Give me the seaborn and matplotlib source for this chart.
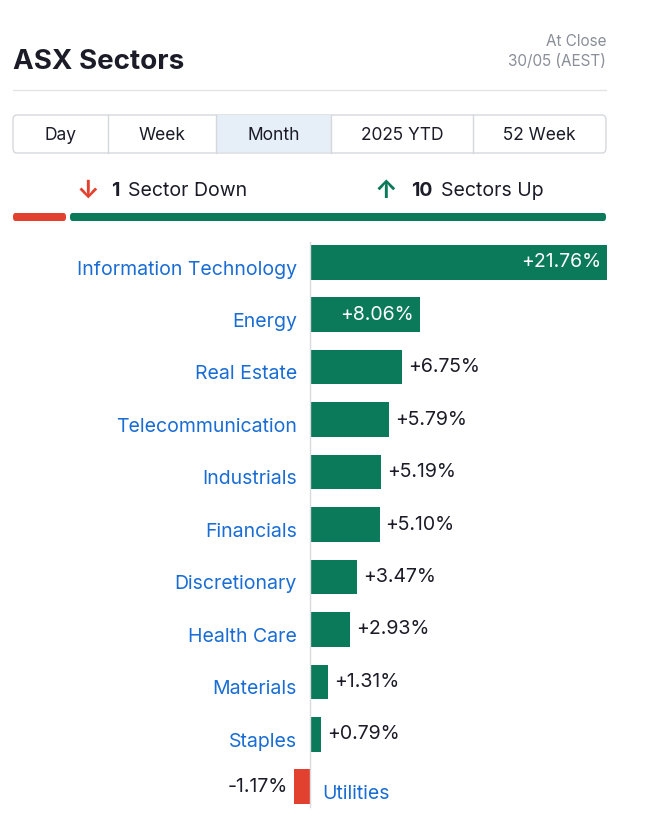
import matplotlib
matplotlib.use("Agg")
import matplotlib.pyplot as plt
import seaborn as sns
import pandas as pd
from matplotlib.patches import FancyBboxPatch

plt.rcParams["font.family"] = "Inter"

sectors = ["Information Technology", "Energy", "Real Estate", "Telecommunication",
           "Industrials", "Financials", "Discretionary", "Health Care",
           "Materials", "Staples", "Utilities"]
changes = [21.76, 8.06, 6.75, 5.79, 5.19, 5.10, 3.47, 2.93, 1.31, 0.79, -1.17]
tabs = ["Day", "Week", "Month", "2025 YTD", "52 Week"]

GREEN = "#0b7a5a"
RED = "#e3412f"
BLUE = "#1a6dd4"
DARK = "#1c1c28"
GRAY = "#8a8f98"

W, H = 650, 821
fig = plt.figure(figsize=(6.5, 8.21), dpi=100)

def fx(px): return px / W
def fy(py): return 1 - py / H

# header
fig.text(fx(13), fy(62), "ASX Sectors", fontsize=20, fontweight="bold", color=DARK, va="center")
fig.text(fx(606), fy(41), "At Close", fontsize=11, color=GRAY, ha="right", va="center")
fig.text(fx(606), fy(62), "30/05 (AEST)", fontsize=11, color=GRAY, ha="right", va="center")
fig.add_artist(plt.Line2D([fx(13), fx(606)], [fy(90), fy(90)], color="#e3e5e8", lw=1))

# tabs
edges = [13, 108, 216, 331, 473, 606]
fig.add_artist(FancyBboxPatch((fx(13), fy(153)), fx(593), fy(115) - fy(153),
                              boxstyle="round,pad=0,rounding_size=0.006",
                              fc="white", ec="#d5d8dc", lw=1, transform=fig.transFigure))
fig.add_artist(plt.Rectangle((fx(216), fy(152.5)), fx(115), fy(115.5) - fy(152.5),
                             fc="#e6eef7", ec="none", transform=fig.transFigure))
for e in edges[1:-1]:
    fig.add_artist(plt.Line2D([fx(e), fx(e)], [fy(115), fy(153)], color="#d5d8dc", lw=1))
for i, t in enumerate(tabs):
    fig.text(fx((edges[i] + edges[i + 1]) / 2), fy(135), t, fontsize=12.5, color=DARK,
             ha="center", va="center")

# summary
fig.text(fx(88), fy(191), "↓", fontsize=18, color=RED, ha="center", va="center", fontweight="bold")
fig.text(fx(111), fy(191), "1", fontsize=14, color=DARK, fontweight="bold", va="center")
fig.text(fx(128), fy(191), "Sector Down", fontsize=14, color=DARK, va="center")
fig.text(fx(386), fy(191), "↑", fontsize=18, color=GREEN, ha="center", va="center", fontweight="bold")
fig.text(fx(411), fy(191), "10", fontsize=14, color=DARK, fontweight="bold", va="center")
fig.text(fx(441), fy(191), "Sectors Up", fontsize=14, color=DARK, va="center")
fig.add_artist(FancyBboxPatch((fx(13), fy(221)), fx(53), fy(213) - fy(221),
                              boxstyle="round,pad=0,rounding_size=0.004", fc=RED, ec="none",
                              transform=fig.transFigure))
fig.add_artist(FancyBboxPatch((fx(70), fy(221)), fx(536), fy(213) - fy(221),
                              boxstyle="round,pad=0,rounding_size=0.004", fc=GREEN, ec="none",
                              transform=fig.transFigure))

# bars
scale = 297 / 21.76
ax = fig.add_axes([0, fy(813), 1, fy(236) - fy(813)])
df = pd.DataFrame({"sector": sectors, "change": changes})
colors = [GREEN if v >= 0 else RED for v in changes]
sns.barplot(data=df, y="sector", x="change", hue="sector", palette=colors, legend=False,
            orient="h", width=0.66, ax=ax, saturation=1)
ax.set_xlim(-310 / scale, (W - 310) / scale)
ax.set_ylim(len(sectors) - 0.5, -0.5)
ax.axis("off")
ax.axvline(0, ymin=0.01, ymax=0.99, color="#d8dadd", lw=1)
off = 0.14  # category labels sit slightly below bar centre
for i, (s, v) in enumerate(zip(sectors, changes)):
    lab = f"{v:+.2f}%"
    if v >= 0:
        ax.text(-13 / scale, i + off, s, ha="right", va="center", fontsize=14, color=BLUE)
        if v > 7:
            ax.text(v - 6 / scale, i, lab, ha="right", va="center", fontsize=14, color="white")
        else:
            ax.text(v + 6 / scale, i, lab, ha="left", va="center", fontsize=14, color=DARK)
    else:
        ax.text(12 / scale, i + off, s, ha="left", va="center", fontsize=14, color=BLUE)
        ax.text(v - 6 / scale, i, lab, ha="right", va="center", fontsize=14, color=DARK)

fig.savefig("out.png", dpi=100, facecolor="white")
